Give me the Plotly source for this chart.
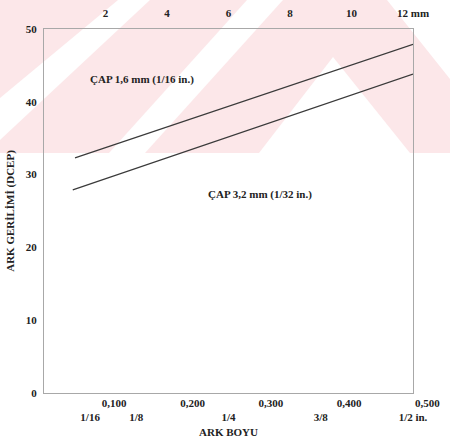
import plotly.graph_objects as go

# ---- data ----
arc_len_16 = [0.042, 0.5]          # arc length, inches
volt_16 = [32.3, 47.9]             # arc voltage, V (1.6 mm electrode)
arc_len_32 = [0.039, 0.5]
volt_32 = [27.9, 43.8]             # arc voltage, V (3.2 mm electrode)

frac_vals = [0.0625, 0.125, 0.25, 0.375, 0.5]
frac_text = ["1/16", "1/8", "1/4", "3/8", "1/2 in."]
dec_vals = [0.1, 0.2, 0.3, 0.4, 0.5]
dec_text = ["0,100", "0,200", "0,300", "0,400", "0,500"]
mm_vals = [2, 4, 6, 8, 10, 12]
mm_text = ["2", "4", "6", "8", "10", "12 mm"]
y_vals = [0, 10, 20, 30, 40, 50]

label_16 = "ÇAP 1,6 mm (1/16 in.)"
label_32 = "ÇAP 3,2 mm (1/32 in.)"

W, H = 450, 441
L, R, T, B = 44, 10, 29, 48
PW, PH = W - L - R, H - T - B
xdom_end = (413 - L) / PW

FAM = "Liberation Serif, Times New Roman, DejaVu Serif, serif"
FONT = dict(family=FAM, size=11, color="#222")
TFONT = dict(family=FAM, size=11, color="#222", weight="bold")
LINE_C = "#3a3a3a"
AX_C = "#a8a8a8"
PINK = "#FCE7E9"

fig = go.Figure()
fig.add_trace(go.Scatter(x=arc_len_16, y=volt_16, mode="lines",
                         line=dict(color=LINE_C, width=1.2), showlegend=False, hoverinfo="skip"))
fig.add_trace(go.Scatter(x=arc_len_32, y=volt_32, mode="lines",
                         line=dict(color=LINE_C, width=1.2), showlegend=False, hoverinfo="skip"))
# helper traces so the extra axes get drawn
fig.add_trace(go.Scatter(x=mm_vals, y=[None] * len(mm_vals), xaxis="x2", yaxis="y",
                         mode="markers", showlegend=False, hoverinfo="skip"))
fig.add_trace(go.Scatter(x=dec_vals, y=[None] * len(dec_vals), xaxis="x3", yaxis="y",
                         mode="markers", showlegend=False, hoverinfo="skip"))

# watermark (decorative background), pixel polygons -> paper coords
def px2paper(pts):
    return [((px - L) / PW, (H - B - py) / PH) for px, py in pts]

def path(pts):
    p = px2paper(pts)
    return "M " + " L ".join(f"{a:.4f},{b:.4f}" for a, b in p) + " Z"

wm_top = 153
shapes = [
    dict(type="path", path=path([(0, 0), (W, 0), (W, wm_top), (0, wm_top)]),
         fillcolor=PINK, line=dict(width=0)),
]
for poly in [
    [(118, 0), (150, 0), (0, 140), (0, 98)],
    [(247, 0), (283, 0), (145, wm_top), (109, wm_top)],
    [(333, 57), (410, wm_top), (259, wm_top)],
    [(387, 0), (W, 0), (W, 79)],
]:
    shapes.append(dict(type="path", path=path(poly), fillcolor="white", line=dict(width=0)))
for s in shapes:
    s.update(xref="paper", yref="paper", layer="below")

# decimal scale fitted to printed positions (px = 35.9 + 783*v)
d0 = (L - 35.9) / 783
d1 = (W - R - 35.9) / 783

fig.update_layout(
    width=W, height=H,
    margin=dict(l=L, r=R, t=T, b=B),
    paper_bgcolor="white", plot_bgcolor="rgba(0,0,0,0)",
    font=FONT,
    shapes=shapes,
    xaxis=dict(domain=[0, xdom_end], range=[0, 0.5], tickvals=frac_vals, ticktext=frac_text,
               ticks="", showgrid=False, zeroline=False, showline=True, mirror=True,
               linecolor=AX_C, linewidth=1, ticklabelstandoff=14, tickfont=TFONT,
               automargin=False,
               title=dict(text="<b>ARK BOYU</b>", standoff=6, font=FONT)),
    xaxis2=dict(overlaying="x", side="top", anchor="y", range=[0, 12], tickvals=mm_vals,
                ticktext=mm_text, ticks="", showgrid=False, zeroline=False, showline=False,
                ticklabelstandoff=9, tickfont=TFONT, automargin=False),
    xaxis3=dict(domain=[0, 1], anchor="y", side="bottom", range=[d0, d1], tickvals=dec_vals,
                ticktext=dec_text, ticks="", showgrid=False, zeroline=False, showline=False,
                ticklabelstandoff=2, tickfont=TFONT, automargin=False),
    yaxis=dict(range=[0, 50], tickvals=y_vals, ticks="", showgrid=False, zeroline=False,
               showline=True, mirror=True, linecolor=AX_C, linewidth=1, ticklabelstandoff=4,
               tickfont=TFONT, automargin=False,
               title=dict(text="<b>ARK GERİLİMİ (DCEP)</b>", standoff=8, font=FONT)),
    annotations=[
        dict(x=0.133, y=43.0, xref="x", yref="y", text=f"<b>{label_16}</b>", showarrow=False,
             font=FONT),
        dict(x=0.293, y=27.3, xref="x", yref="y", text=f"<b>{label_32}</b>", showarrow=False,
             font=FONT),
    ],
)

fig.write_html("out.html")
